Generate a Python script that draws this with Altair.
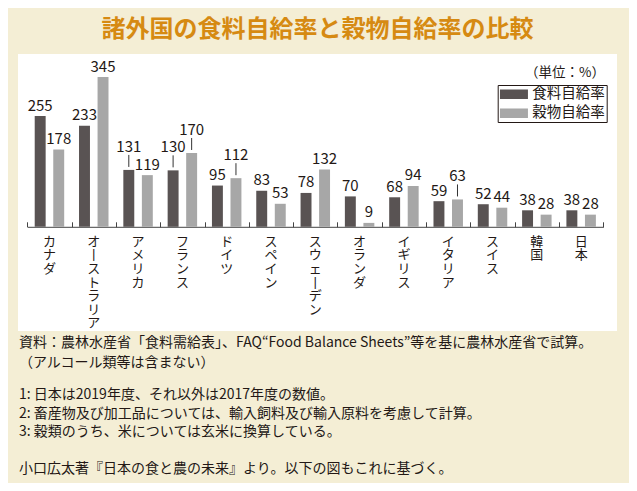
import altair as alt
import pandas as pd

FONT = "Noto Sans CJK JP"
INK = "#231815"

countries = ["カナダ", "オーストラリア", "アメリカ", "フランス", "ドイツ", "スペイン",
             "スウェーデン", "オランダ", "イギリス", "イタリア", "スイス", "韓国", "日本"]
series = ["食料自給率", "穀物自給率"]
food = [255, 233, 131, 130, 95, 83, 78, 70, 68, 59, 52, 38, 38]
grain = [178, 345, 119, 170, 112, 53, 132, 9, 94, 63, 44, 28, 28]
# labels drawn with a short leader line
food_leader = [False, False, True, True, False, False, False, False, False, False, False, False, False]
grain_leader = [False, False, False, True, True, False, False, False, False, True, False, False, False]
colors = ["#595353", "#a7a7a7"]

title_text = "諸外国の食料自給率と穀物自給率の比較"
unit_text = "（単位：%）"
notes = [
    "資料：農林水産省「食料需給表」、FAQ“Food Balance Sheets”等を基に農林水産省で試算。",
    "（アルコール類等は含まない）",
    "1: 日本は2019年度、それ以外は2017年度の数値。",
    "2: 畜産物及び加工品については、輸入飼料及び輸入原料を考慮して計算。",
    "3: 穀類のうち、米については玄米に換算している。",
    "小口広太著『日本の食と農の未来』より。以下の図もこれに基づく。",
]
note_y = [289, 309, 340.5, 359.5, 378, 414.5]

rows = []
for i, c in enumerate(countries):
    rows.append(dict(country=c, series=series[0], value=food[i], leader=food_leader[i]))
    rows.append(dict(country=c, series=series[1], value=grain[i], leader=grain_leader[i]))
df = pd.DataFrame(rows)

W, H = 599, 277
YMIN, YMAX = -240, 398
base_px = H * YMAX / (YMAX - YMIN)

x_enc = alt.X("country:N", sort=countries,
              scale=alt.Scale(range=[9.3, 585.3], paddingInner=0, paddingOuter=0),
              axis=alt.Axis(orient="top", offset=-base_px, labels=False, title=None,
                            tickBand="extent", tickSize=5, domainColor="#444444",
                            tickColor="#444444", grid=False))
xo_enc = alt.XOffset("series:N", sort=series,
                     scale=alt.Scale(paddingInner=0.41, paddingOuter=0.4))
y_enc = alt.Y("value:Q", scale=alt.Scale(domain=[YMIN, YMAX], nice=False, zero=False), axis=None)

bars = alt.Chart(df).mark_bar().encode(
    x=x_enc, xOffset=xo_enc, y=y_enc, y2=alt.datum(0),
    color=alt.Color("series:N", sort=series,
                    scale=alt.Scale(domain=series, range=colors),
                    legend=alt.Legend(title=None, orient="none", legendX=479.7, legendY=31,
                                      symbolType="M-1,-0.68L3,-0.68L3,0.68L-1,0.68Z",
                                      symbolSize=196, symbolStrokeWidth=0, symbolOpacity=1,
                                      labelFontSize=14.5, labelFont=FONT, labelColor=INK,
                                      labelOffset=18, rowPadding=4, padding=2,
                                      strokeColor=INK, fillColor="white", cornerRadius=0)),
)

leaders = alt.Chart(df).transform_filter("datum.leader").mark_rule(
    yOffset=-3, y2Offset=-15, color="#333333", strokeWidth=1
).encode(x=x_enc, xOffset=xo_enc, y=y_enc, y2=alt.Y2("value:Q"))

labels_plain = alt.Chart(df).transform_filter("!datum.leader").mark_text(
    dy=-10.5, baseline="middle", fontSize=15, font=FONT, color=INK
).encode(x=x_enc, xOffset=xo_enc, y=y_enc, text="value:Q")

labels_lead = alt.Chart(df).transform_filter("datum.leader").mark_text(
    dy=-23, baseline="middle", fontSize=15, font=FONT, color=INK
).encode(x=x_enc, xOffset=xo_enc, y=y_enc, text="value:Q")

cat_labels = alt.Chart(pd.DataFrame({"country": countries})).transform_calculate(
    chars="split(replace(datum.country, 'ー', '丨'), '')"
).mark_text(baseline="top", dy=9, fontSize=13, lineHeight=13.6, font=FONT, color=INK).encode(
    x=x_enc, y=alt.datum(0), text="chars:N"
)

title = alt.Chart(pd.DataFrame({"t": [title_text]})).mark_text(
    align="center", baseline="alphabetic", fontSize=24, font=FONT, color="#d68a12", fontWeight="bold"
).encode(x=alt.value(W / 2), y=alt.value(-17), text="t:N")

unit = alt.Chart(pd.DataFrame({"t": [unit_text]})).mark_text(
    align="right", baseline="middle", fontSize=13.5, font=FONT, color=INK
).encode(x=alt.value(587), y=alt.value(19), text="t:N")

note_layers = []
for t, yy in zip(notes, note_y):
    note_layers.append(
        alt.Chart(pd.DataFrame({"t": [t]})).mark_text(
            align="left", baseline="middle", fontSize=14, font=FONT, color=INK
        ).encode(x=alt.value(1), y=alt.value(yy), text="t:N")
    )

chart = alt.layer(bars, leaders, labels_plain, labels_lead, cat_labels, title, unit, *note_layers).properties(
    width=W, height=H,
    background="#f4eed5",
    padding={"left": 10, "top": 46, "right": 12, "bottom": 152},
    autosize=alt.AutoSizeParams(type="none"),
).configure_view(fill="white", stroke=None)

chart.save("out.html", embed_options={"renderer": "svg", "actions": False})
